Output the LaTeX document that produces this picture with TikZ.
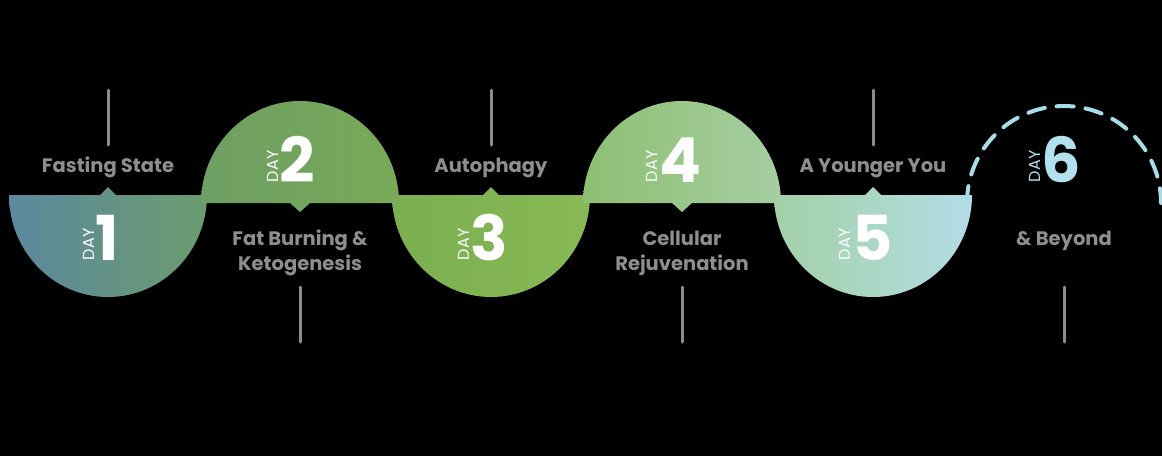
\documentclass[tikz,border=0pt]{standalone}
\usepackage{fontspec}
\setmainfont{Poppins}
\definecolor{linegray}{HTML}{8C8C8C}
\definecolor{labelgray}{HTML}{8E8E8E}
\definecolor{dashblue}{HTML}{A8DCEA}
\definecolor{sixblue}{HTML}{B2E0EC}
\definecolor{cA}{HTML}{5B889E}
\definecolor{cB}{HTML}{6C9C6E}
\definecolor{cC}{HTML}{6E9F64}
\definecolor{cD}{HTML}{78AA58}
\definecolor{cE}{HTML}{7AAE50}
\definecolor{cF}{HTML}{88B955}
\definecolor{cG}{HTML}{8DBF72}
\definecolor{cH}{HTML}{A6CEA2}
\definecolor{cI}{HTML}{A2D0A6}
\definecolor{cJ}{HTML}{B3DDE6}
\begin{document}
\begin{tikzpicture}[x=1pt,y=-1pt,
  guide/.style={draw=linegray, line width=3pt, line cap=round},
  lbl/.style={text=labelgray, font=\bfseries\fontsize{19.5}{25}\selectfont, anchor=base, inner sep=0pt},
  daynum/.style={text=white, inner sep=0pt, anchor=base},
  daysmall/.style={font=\fontsize{16}{16}\selectfont},
  daybig/.style={font=\bfseries\fontsize{62}{62}\selectfont}]
\fill[black] (0,0) rectangle (1162,456);
\useasboundingbox (0,0) rectangle (1162,456);

% bottom semicircles (days 1,3,5)
\shade[left color=cA, right color=cB]
  (9,195) -- (100,195) -- (108,187) -- (116,195) -- (207,195)
  arc[start angle=0, end angle=180, x radius=99, y radius=102] -- cycle;
\shade[left color=cE, right color=cF]
  (392,195) -- (483,195) -- (491,187) -- (499,195) -- (590,195)
  arc[start angle=0, end angle=180, x radius=99, y radius=102] -- cycle;
\shade[left color=cI, right color=cJ]
  (774,195) -- (865,195) -- (873,187) -- (881,195) -- (972,195)
  arc[start angle=0, end angle=180, x radius=99, y radius=102] -- cycle;

% top semicircles (days 2,4)
\shade[left color=cC, right color=cD]
  (201,203) arc[start angle=180, end angle=360, x radius=99, y radius=102]
  -- (310,203) -- (300,212) -- (290,203) -- cycle;
\shade[left color=cG, right color=cH]
  (583,203) arc[start angle=180, end angle=360, x radius=99, y radius=102]
  -- (692,203) -- (682,212) -- (672,203) -- cycle;

% day 6 dashed arc
\draw[draw=dashblue, line width=4pt, line cap=round, dash pattern=on 17pt off 12pt]
  (967,203) arc[start angle=180, end angle=360, radius=97];

% day numbers
\node[daynum] (d1) at (101,260) {\rotatebox{90}{\tikzset{}\fontsize{16}{16}\selectfont DAY}\hspace{1.5pt}{\bfseries\fontsize{62}{62}\selectfont 1}};
\node[daynum] (d2) at (291,182) {\rotatebox{90}{\fontsize{16}{16}\selectfont DAY}\hspace{1.5pt}{\bfseries\fontsize{62}{62}\selectfont 2}};
\node[daynum] (d3) at (483,260) {\rotatebox{90}{\fontsize{16}{16}\selectfont DAY}\hspace{1.5pt}{\bfseries\fontsize{62}{62}\selectfont 3}};
\node[daynum] (d4) at (674,182) {\rotatebox{90}{\fontsize{16}{16}\selectfont DAY}\hspace{1.5pt}{\bfseries\fontsize{62}{62}\selectfont 4}};
\node[daynum] (d5) at (866,260) {\rotatebox{90}{\fontsize{16}{16}\selectfont DAY}\hspace{1.5pt}{\bfseries\fontsize{62}{62}\selectfont 5}};
\node[daynum, text=sixblue] (d6) at (1055,182) {\rotatebox{90}{\fontsize{16}{16}\selectfont DAY}\hspace{1.5pt}{\bfseries\fontsize{62}{62}\selectfont 6}};

% labels
\node[lbl] (l1) at (108,172) {Fasting State};
\node[lbl] (l2a) at (300,245) {Fat Burning \&};
\node[lbl] (l2b) at (300,270) {Ketogenesis};
\node[lbl] (l3) at (491,172) {Autophagy};
\node[lbl] (l4a) at (682,245) {Cellular};
\node[lbl] (l4b) at (682,270) {Rejuvenation};
\node[lbl] (l5) at (873,172) {A Younger You};
\node[lbl] (l6) at (1064,245) {\& Beyond};

% guide lines
\coordinate (t1a) at (108,90);  \coordinate (t1b) at (108,145);
\coordinate (b2a) at (300,287); \coordinate (b2b) at (300,342);
\coordinate (t3a) at (491,90);  \coordinate (t3b) at (491,145);
\coordinate (b4a) at (682,287); \coordinate (b4b) at (682,342);
\coordinate (t5a) at (873,90);  \coordinate (t5b) at (873,145);
\coordinate (b6a) at (1064,287); \coordinate (b6b) at (1064,342);
\draw[guide] (t1a) -- (t1b);
\draw[guide] (b2a) -- (b2b);
\draw[guide] (t3a) -- (t3b);
\draw[guide] (b4a) -- (b4b);
\draw[guide] (t5a) -- (t5b);
\draw[guide] (b6a) -- (b6b);
\end{tikzpicture}
\end{document}
